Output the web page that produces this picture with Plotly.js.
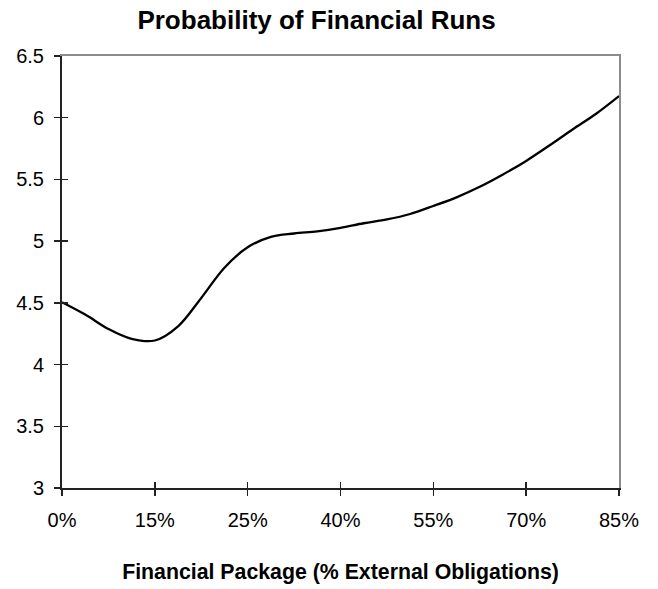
<!DOCTYPE html>
<html>
<head>
<meta charset="utf-8">
<script src="https://cdn.plot.ly/plotly-3.0.1.min.js"></script>
<style>html,body{margin:0;padding:0;background:#fff;}#chart{width:658px;height:589px;}</style>
</head>
<body>
<div id="chart"></div>
<script>
// Category tick labels (evenly spaced on the axis)
const tickLabels = ['0%', '15%', '25%', '40%', '55%', '70%', '85%'];
const tickPositions = [0, 1, 2, 3, 4, 5, 6];

// Curve readings: position along the category axis (tick units) and value
const xPos = [0, 0.25, 0.5, 0.75, 1.0, 1.25, 1.5, 1.75, 2.0, 2.25, 2.5, 2.75, 3.0,
              3.25, 3.5, 3.75, 4.0, 4.25, 4.5, 4.75, 5.0, 5.25, 5.5, 5.75, 6.0];
const runProb = [4.505, 4.405, 4.288, 4.208, 4.195, 4.31, 4.54, 4.785, 4.95, 5.035, 5.062, 5.08, 5.108,
                 5.145, 5.176, 5.22, 5.285, 5.355, 5.44, 5.54, 5.65, 5.775, 5.905, 6.03, 6.175];

const font = 'Liberation Sans, Arial, sans-serif';

const traces = [
  {x: xPos, y: runProb, type: 'scatter', mode: 'lines',
   line: {color: '#000', width: 2.3, shape: 'spline', smoothing: 1},
   hoverinfo: 'skip', showlegend: false},
  {x: xPos, y: runProb, xaxis: 'x2', yaxis: 'y2', type: 'scatter', mode: 'lines',
   line: {color: 'rgba(0,0,0,0)', width: 0}, hoverinfo: 'skip', showlegend: false},
  {x: xPos, y: runProb, xaxis: 'x3', yaxis: 'y3', type: 'scatter', mode: 'lines',
   line: {color: 'rgba(0,0,0,0)', width: 0}, hoverinfo: 'skip', showlegend: false}
];

const layout = {
  width: 658, height: 589,
  margin: {l: 62, r: 39, t: 56, b: 101},
  paper_bgcolor: '#fff', plot_bgcolor: '#fff',
  font: {family: font, color: '#000', size: 20},
  showlegend: false,
  title: {text: '<b>Probability of Financial Runs</b>', font: {family: font, size: 26, color: '#000'},
          xref: 'paper', x: 0.457, xanchor: 'center', yref: 'container', y: 0.967, yanchor: 'middle'},
  xaxis: {
    range: [0, 6], tickvals: tickPositions, ticktext: tickLabels,
    showgrid: false, zeroline: false,
    showline: true, linecolor: '#222', linewidth: 2,
    ticks: 'outside', ticklen: 6, tickwidth: 1.5, tickcolor: '#222',
    ticklabelstandoff: 7,
    tickfont: {family: font, size: 20, color: '#000'},
    title: {text: '<b>Financial Package (% External Obligations)</b>', standoff: 34,
            font: {family: font, size: 21.3, color: '#000'}},
    fixedrange: true
  },
  yaxis: {
    range: [3, 6.5], dtick: 0.5, tick0: 3,
    showgrid: false, zeroline: false,
    showline: true, linecolor: '#222', linewidth: 2,
    ticks: 'outside', ticklen: 6, tickwidth: 1.5, tickcolor: '#222',
    ticklabelstandoff: 6,
    tickfont: {family: font, size: 20, color: '#000'},
    fixedrange: true
  },
  xaxis2: {
    overlaying: 'x', matches: 'x', anchor: 'y2', side: 'bottom',
    tickvals: tickPositions, showticklabels: false,
    showgrid: false, zeroline: false, showline: false,
    ticks: 'inside', ticklen: 6, tickwidth: 1.5, tickcolor: '#222',
    fixedrange: true
  },
  yaxis2: {
    overlaying: 'y', matches: 'y', anchor: 'x2', side: 'left',
    dtick: 0.5, tick0: 3, showticklabels: false,
    showgrid: false, zeroline: false, showline: false,
    ticks: 'inside', ticklen: 6, tickwidth: 1.5, tickcolor: '#222',
    fixedrange: true
  },
  xaxis3: {
    overlaying: 'x', matches: 'x', anchor: 'y', side: 'top',
    showticklabels: false, ticks: '', showgrid: false, zeroline: false,
    showline: true, linecolor: '#8c8c8c', linewidth: 2, fixedrange: true
  },
  yaxis3: {
    overlaying: 'y', matches: 'y', anchor: 'x', side: 'right',
    showticklabels: false, ticks: '', showgrid: false, zeroline: false,
    showline: true, linecolor: '#8c8c8c', linewidth: 2, fixedrange: true
  }
};

Plotly.newPlot('chart', traces, layout, {displayModeBar: false, staticPlot: true});
</script>
</body>
</html>
